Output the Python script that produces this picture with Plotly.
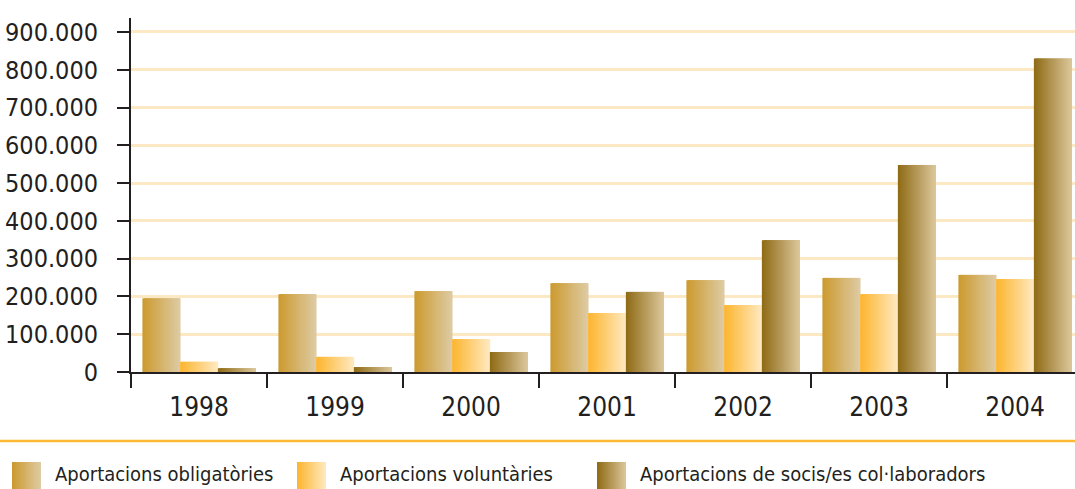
import plotly.graph_objects as go

years = ["1998", "1999", "2000", "2001", "2002", "2003", "2004"]
obligatories = [195000, 206000, 214000, 235000, 243000, 249000, 257000]
voluntaries = [27000, 40000, 87000, 156000, 177000, 206000, 246000]
socis = [10000, 13000, 53000, 212000, 349000, 548000, 830000]
series_names = ["Aportacions obligatòries", "Aportacions voluntàries",
                "Aportacions de socis/es col·laboradors"]
y_ticks = [0, 100000, 200000, 300000, 400000, 500000, 600000, 700000, 800000, 900000]

# gradient end colours (left, right) per series
grad = [((0xCC, 0x9A, 0x2E), (0xDE, 0xCB, 0xA4)),
        ((0xFD, 0xB5, 0x2E), (0xFE, 0xE9, 0xC0)),
        ((0x8E, 0x6A, 0x14), (0xDC, 0xC7, 0x9C))]

FONT = "'Liberation Sans Narrow', 'DejaVu Sans Condensed', 'Roboto Condensed', Roboto, sans-serif"
W, H = 1075, 489
L, T, B = 131, 18, 117
PW, PH = W - L, H - T - B
CAT = 136.0
x_range = [-0.5, -0.5 + PW / CAT]

def mix(c0, c1, t):
    return "rgb(%d,%d,%d)" % tuple(round(a + (b - a) * t) for a, b in zip(c0, c1))

N = 24
bar_w = 0.2775
step = bar_w / N
fig = go.Figure()
for s, vals in enumerate([obligatories, voluntaries, socis]):
    start = -1.5 * bar_w + s * bar_w
    for k in range(N):
        wk = step * 2.2 if k < N - 1 else step
        fig.add_trace(go.Bar(
            x=years, y=vals,
            width=wk, offset=start + k * step,
            marker=dict(color=mix(grad[s][0], grad[s][1], (k + 0.5) / N), line=dict(width=0)),
            showlegend=False, hoverinfo="skip" if k else None, name=series_names[s]))

def px_x(p):
    return (p - L) / PW

def px_y(p):
    return (H - B - p) / PH

shapes = [dict(type="line", xref="paper", yref="paper", x0=px_x(0), x1=px_x(W),
               y0=px_y(441), y1=px_y(441), line=dict(color="#FDB933", width=2.5))]
annotations = []
legend_x = [12, 297, 597]
for s in range(3):
    x0 = legend_x[s]
    sw = 29
    M = 24
    for k in range(M):
        shapes.append(dict(type="rect", xref="paper", yref="paper",
                           x0=px_x(x0 + k * sw / M),
                           x1=px_x(x0 + min(k + 2, M) * sw / M),
                           y0=px_y(462), y1=px_y(490), line=dict(width=0),
                           fillcolor=mix(grad[s][0], grad[s][1], (k + 0.5) / M), layer="above"))
    annotations.append(dict(text=series_names[s], xref="paper", yref="paper",
                            x=px_x(x0 + 41), y=px_y(474), xanchor="left", yanchor="middle",
                            showarrow=False,
                            font=dict(family=FONT, size=20, color="#231F20")))

fig.update_layout(
    width=W, height=H,
    margin=dict(l=L, r=0, t=T, b=B, pad=0),
    paper_bgcolor="white", plot_bgcolor="white",
    barmode="overlay", separators=",.",
    showlegend=False,
    font=dict(family=FONT, size=25, color="#231F20"),
    xaxis=dict(type="category", range=x_range, categoryorder="array", categoryarray=years,
               tickson="boundaries", ticks="outside", ticklen=14,
               tickwidth=2, tickcolor="#231F20", showline=True, linecolor="#231F20",
               linewidth=2, showgrid=False, zeroline=False, automargin=False,
               ticklabelstandoff=11,
               tickfont=dict(family=FONT, size=26, color="#231F20")),
    yaxis=dict(range=[0, 937000], tickvals=y_ticks, tickformat=",d", ticks="outside",
               ticklen=12, tickwidth=2, tickcolor="#231F20", showline=True,
               linecolor="#231F20", linewidth=2, showgrid=True, gridcolor="#FCE8C2",
               gridwidth=2.5, zeroline=False, ticklabelstandoff=14, automargin=False,
               tickfont=dict(family=FONT, size=25, color="#231F20")),
    shapes=shapes, annotations=annotations,
)

fig.write_html("out.html", config={"displayModeBar": False},
               post_script="document.body.style.margin='0';")
